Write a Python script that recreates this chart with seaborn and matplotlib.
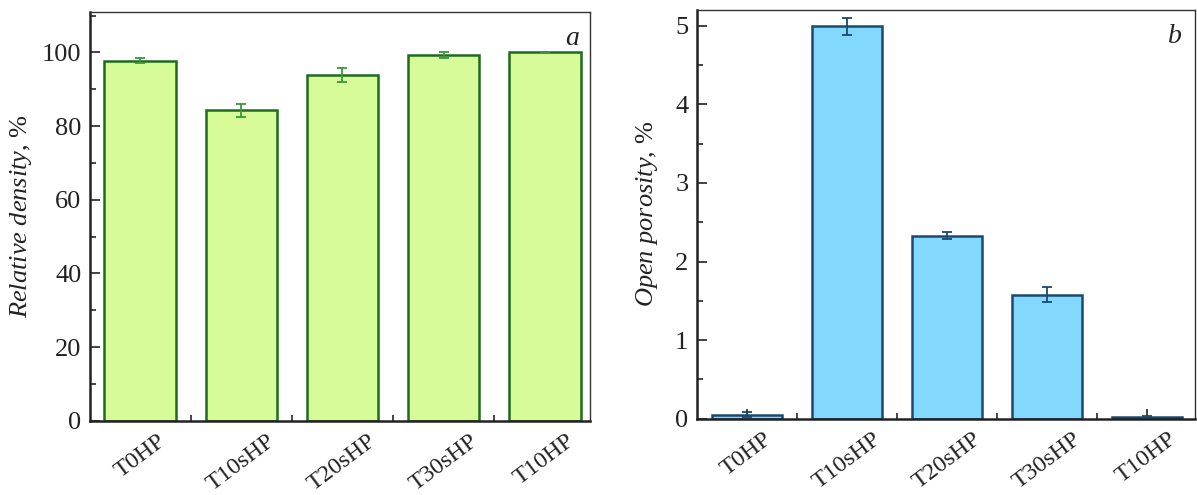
import matplotlib
matplotlib.use("Agg")
import matplotlib.pyplot as plt
import seaborn as sns
import pandas as pd
import numpy as np
from matplotlib.ticker import MultipleLocator, FixedLocator

categories = ["T0HP", "T10sHP", "T20sHP", "T30sHP", "T10HP"]
density = [97.8, 84.3, 93.9, 99.2, 100.0]
density_err = [0.6, 1.8, 2.0, 0.8, 0.2]
porosity = [0.05, 4.99, 2.33, 1.58, 0.02]
porosity_err = [0.03, 0.11, 0.05, 0.10, 0.02]

sns.set_theme(style="ticks")
plt.rcParams["font.family"] = ["Liberation Serif", "DejaVu Serif"]
plt.rcParams["mathtext.fontset"] = "custom"
plt.rcParams["mathtext.it"] = "Liberation Serif:italic"
plt.rcParams["mathtext.rm"] = "Liberation Serif"

FS_Y = 19
FS_X = 17.5
FS_L = 19
fig = plt.figure(figsize=(11.97, 4.95), dpi=100)
ax1 = fig.add_axes([0.075, 0.150, 0.418, 0.826])
ax2 = fig.add_axes([0.582, 0.154, 0.416, 0.826])

df1 = pd.DataFrame({"cat": categories, "val": density})
df2 = pd.DataFrame({"cat": categories, "val": porosity})

sns.barplot(data=df1, x="cat", y="val", ax=ax1, color="#d6fb98",
            edgecolor="#1d6b1d", linewidth=1.8, width=0.71, saturation=1)
ax1.errorbar(range(len(categories)), density, yerr=density_err, fmt="none",
             ecolor="#3a973a", elinewidth=1.3, capsize=3.5, capthick=1.3)

sns.barplot(data=df2, x="cat", y="val", ax=ax2, color="#82d8fd",
            edgecolor="#1b4a6e", linewidth=1.8, width=0.70, saturation=1)
ax2.errorbar(range(len(categories)), porosity, yerr=porosity_err, fmt="none",
             ecolor="#1b4a6e", elinewidth=1.3, capsize=3.5, capthick=1.3)

ax1.set_ylim(0, 111)
ax1.yaxis.set_major_locator(MultipleLocator(20))
ax1.yaxis.set_minor_locator(MultipleLocator(10))
ax1.set_xlim(-0.5, 4.45)
ax2.set_ylim(0, 5.2)
ax2.yaxis.set_major_locator(MultipleLocator(1))
ax2.yaxis.set_minor_locator(MultipleLocator(0.5))
ax2.set_xlim(-0.5, 4.48)

for ax in (ax1, ax2):
    ax.xaxis.set_minor_locator(FixedLocator([0.5, 1.5, 2.5, 3.5]))
    ax.tick_params(axis="both", which="major", direction="in", length=7, width=1.2,
                   colors="#222222")
    ax.tick_params(axis="y", which="major", labelsize=FS_Y, pad=6)
    ax.tick_params(axis="x", which="major", labelsize=FS_X, pad=7)
    ax.tick_params(axis="both", which="minor", direction="in", length=4, width=1.2)
    for lbl in ax.get_xticklabels():
        lbl.set_rotation(37)
        lbl.set_ha("center")
    for sp in ax.spines.values():
        sp.set_visible(True)
        sp.set_linewidth(1.0)
        sp.set_color("#333333")
    ax.spines["bottom"].set_linewidth(1.8)
    ax.spines["left"].set_linewidth(1.8)
    ax.spines["bottom"].set_color("#222222")
    ax.spines["left"].set_color("#222222")
    ax.set_xlabel("")

ax1.set_ylabel(r"$\mathit{Relative\ density}$, %", fontsize=FS_L, color="#222222", labelpad=6)
ax2.set_ylabel(r"$\mathit{Open\ porosity}$, %", fontsize=FS_L, color="#222222", labelpad=11)
ax1.text(0.978, 0.965, "a", transform=ax1.transAxes, ha="right", va="top",
         fontsize=FS_Y + 1, style="italic", color="#222222")
ax2.text(0.975, 0.965, "b", transform=ax2.transAxes, ha="right", va="top",
         fontsize=FS_Y + 1, style="italic", color="#222222")

fig.savefig("out.png", dpi=100)
